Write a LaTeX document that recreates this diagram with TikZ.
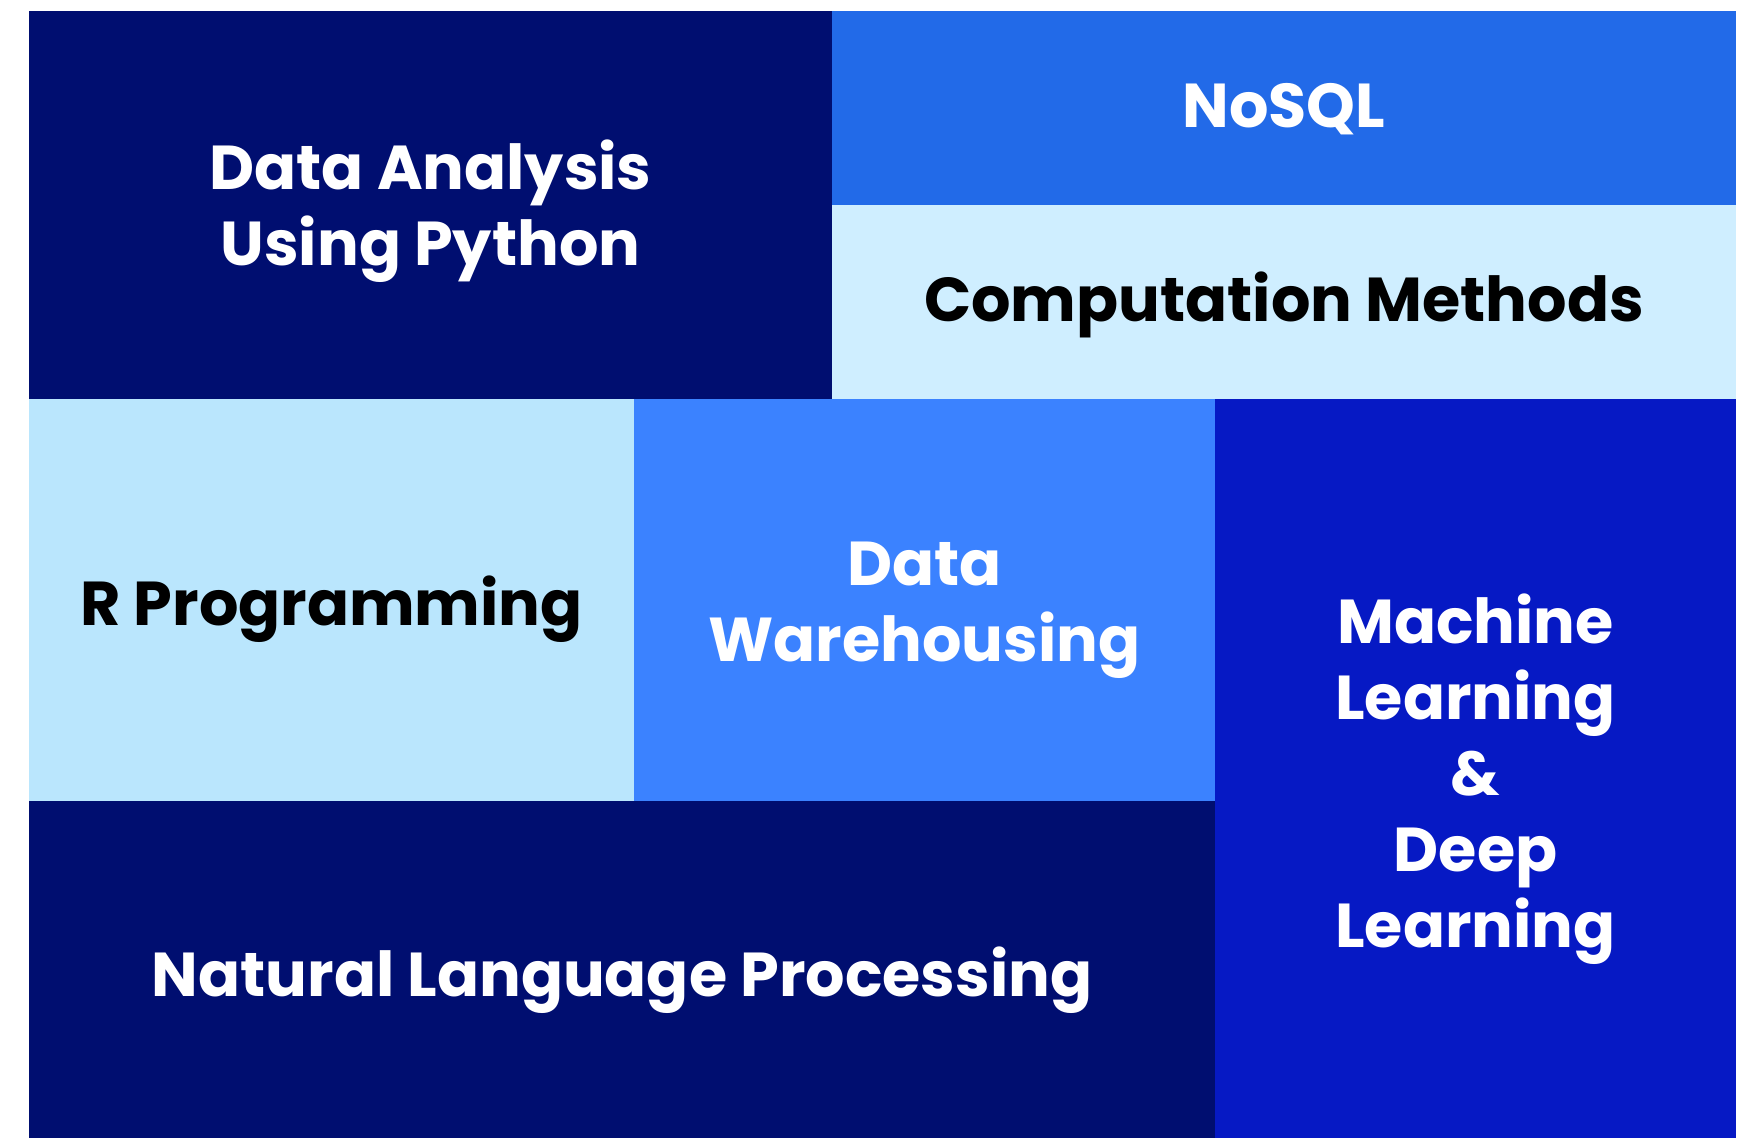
\documentclass[tikz,border=0pt]{standalone}
\usepackage{fontspec}
\setmainfont{Poppins}
\usepackage{tikz}

\definecolor{navy}{RGB}{0,14,112}
\definecolor{nosqlblue}{RGB}{34,106,232}
\definecolor{paleblue}{RGB}{207,238,255}
\definecolor{skyblue}{RGB}{186,230,253}
\definecolor{midblue}{RGB}{59,130,255}
\definecolor{royal}{RGB}{6,25,196}

\begin{document}
\begin{tikzpicture}[x=1pt, y=-1pt,
    tile/.style={inner sep=0pt, outer sep=0pt},
    label/.style={inner sep=0pt, align=center,
        font=\fontsize{62}{76}\selectfont\bfseries},
    darklabel/.style={label, text=white},
    lightlabel/.style={label, text=black}]
    % Canvas (image is 1745 x 1138 px)
    \useasboundingbox[fill=white] (0,0) rectangle (1745,1138);

    % Top row
    \node[tile, fill=navy, minimum width=803pt, minimum height=388pt] (python) at (430.5,205) {};
    \node[tile, fill=nosqlblue, minimum width=904pt, minimum height=194pt] (nosql) at (1284,108) {};
    \node[tile, fill=paleblue, minimum width=904pt, minimum height=194pt] (compute) at (1284,302) {};

    % Middle row
    \node[tile, fill=skyblue, minimum width=605pt, minimum height=402pt] (rprog) at (331.5,600) {};
    \node[tile, fill=midblue, minimum width=581pt, minimum height=402pt] (dwh) at (924.5,600) {};
    \node[tile, fill=royal, minimum width=521pt, minimum height=739pt] (mldl) at (1475.5,768.5) {};

    % Bottom row
    \node[tile, fill=navy, minimum width=1186pt, minimum height=337pt] (nlp) at (622,969.5) {};

    % Labels
    \node[darklabel, yshift=-6pt] (python-text) at (python) {Data Analysis\\Using Python};
    \node[darklabel, yshift=-1pt] (nosql-text) at (nosql) {NoSQL};
    \node[lightlabel, yshift=-3pt] (compute-text) at (compute) {Computation Methods};
    \node[lightlabel, yshift=-9pt] (rprog-text) at (rprog) {R Programming};
    \node[darklabel, yshift=-10pt] (dwh-text) at (dwh) {Data\\Warehousing};
    \node[darklabel, yshift=-11pt] (mldl-text) at (mldl) {Machine\\Learning\\\&\\Deep\\Learning};
    \node[darklabel, yshift=-11pt] (nlp-text) at (nlp) {Natural Language Processing};
\end{tikzpicture}
\end{document}
